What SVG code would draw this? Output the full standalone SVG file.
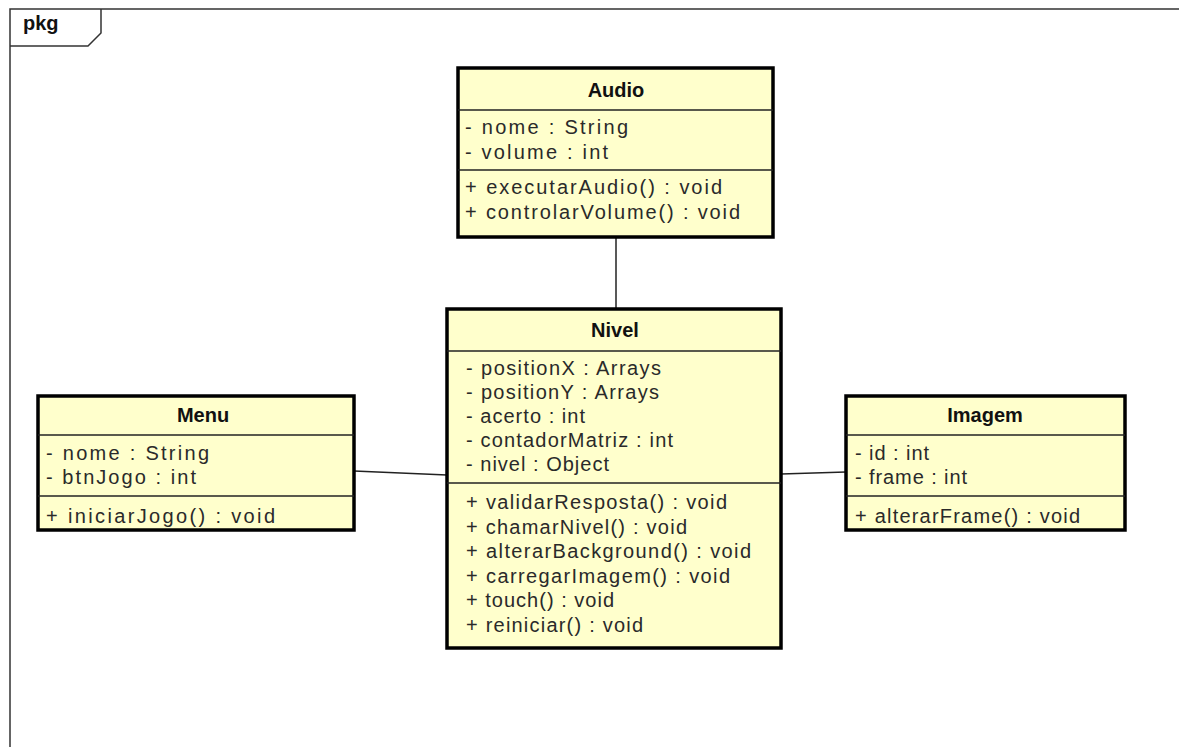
<svg xmlns="http://www.w3.org/2000/svg" width="1179" height="747" viewBox="0 0 1179 747">
  <style>
    .frame { fill: none; stroke: #333; stroke-width: 1.5; }
    .box { fill: #ffffcc; stroke: #000; stroke-width: 3.5; }
    .div { stroke: #222; stroke-width: 1.5; }
    .link { stroke: #222; stroke-width: 1.5; fill: none; }
    .title { font-family: "Liberation Sans", Arial, sans-serif; font-size: 20px; font-weight: bold; fill: #111; text-anchor: middle; }
    .member { font-family: "Liberation Sans", Arial, sans-serif; font-size: 20px; fill: #2a2a2a; }
    .pkg { font-family: "Liberation Sans", Arial, sans-serif; font-size: 20px; font-weight: bold; fill: #111; }
  </style>
  <rect width="1179" height="747" fill="#ffffff"/>

  <!-- package frame -->
  <g id="package">
    <path class="frame" d="M10,747 V9 H1179"/>
    <path class="frame" d="M10,46 H88 L101,33 V9"/>
    <text class="pkg" x="23" y="30">pkg</text>
  </g>

  <!-- associations -->
  <g id="connectors">
    <line class="link" x1="616" y1="237" x2="616" y2="309"/>
    <line class="link" x1="354" y1="471" x2="447" y2="475"/>
    <line class="link" x1="781" y1="474" x2="846" y2="472"/>
  </g>

  <g id="Audio">
    <rect class="box" x="458" y="68" width="315" height="169"/>
    <line class="div" x1="458" y1="110" x2="773" y2="110"/>
    <line class="div" x1="458" y1="170" x2="773" y2="170"/>
    <text class="title" x="616" y="97">Audio</text>
    <text class="member" x="465" y="134" textLength="163" lengthAdjust="spacing">- nome : String</text>
    <text class="member" x="465" y="159" textLength="143" lengthAdjust="spacing">- volume : int</text>
    <text class="member" x="465" y="194" textLength="257" lengthAdjust="spacing">+ executarAudio() : void</text>
    <text class="member" x="465" y="219" textLength="275" lengthAdjust="spacing">+ controlarVolume() : void</text>
  </g>

  <g id="Nivel">
    <rect class="box" x="447" y="309" width="334" height="339"/>
    <line class="div" x1="447" y1="351" x2="781" y2="351"/>
    <line class="div" x1="447" y1="483" x2="781" y2="483"/>
    <text class="title" x="615" y="337">Nivel</text>
    <text class="member" x="466" y="375" textLength="195" lengthAdjust="spacing">- positionX : Arrays</text>
    <text class="member" x="466" y="399" textLength="193" lengthAdjust="spacing">- positionY : Arrays</text>
    <text class="member" x="466" y="423" textLength="119" lengthAdjust="spacing">- acerto : int</text>
    <text class="member" x="466" y="447" textLength="207" lengthAdjust="spacing">- contadorMatriz : int</text>
    <text class="member" x="466" y="471" textLength="143" lengthAdjust="spacing">- nivel : Object</text>
    <text class="member" x="466" y="509" textLength="261" lengthAdjust="spacing">+ validarResposta() : void</text>
    <text class="member" x="466" y="533.5" textLength="221" lengthAdjust="spacing">+ chamarNivel() : void</text>
    <text class="member" x="466" y="558" textLength="285" lengthAdjust="spacing">+ alterarBackground() : void</text>
    <text class="member" x="466" y="582.5" textLength="264" lengthAdjust="spacing">+ carregarImagem() : void</text>
    <text class="member" x="466" y="607" textLength="148" lengthAdjust="spacing">+ touch() : void</text>
    <text class="member" x="466" y="631.5" textLength="177" lengthAdjust="spacing">+ reiniciar() : void</text>
  </g>

  <g id="Menu">
    <rect class="box" x="38" y="396" width="316" height="134"/>
    <line class="div" x1="38" y1="435" x2="354" y2="435"/>
    <line class="div" x1="38" y1="496" x2="354" y2="496"/>
    <text class="title" x="203" y="422">Menu</text>
    <text class="member" x="46" y="460" textLength="163" lengthAdjust="spacing">- nome : String</text>
    <text class="member" x="46" y="484" textLength="150" lengthAdjust="spacing">- btnJogo : int</text>
    <text class="member" x="46" y="523" textLength="229" lengthAdjust="spacing">+ iniciarJogo() : void</text>
  </g>

  <g id="Imagem">
    <rect class="box" x="846" y="396" width="279" height="134"/>
    <line class="div" x1="846" y1="435" x2="1125" y2="435"/>
    <line class="div" x1="846" y1="496" x2="1125" y2="496"/>
    <text class="title" x="985" y="422">Imagem</text>
    <text class="member" x="855" y="460" textLength="74" lengthAdjust="spacing">- id : int</text>
    <text class="member" x="855" y="484" textLength="112" lengthAdjust="spacing">- frame : int</text>
    <text class="member" x="855" y="523" textLength="225" lengthAdjust="spacing">+ alterarFrame() : void</text>
  </g>
</svg>
